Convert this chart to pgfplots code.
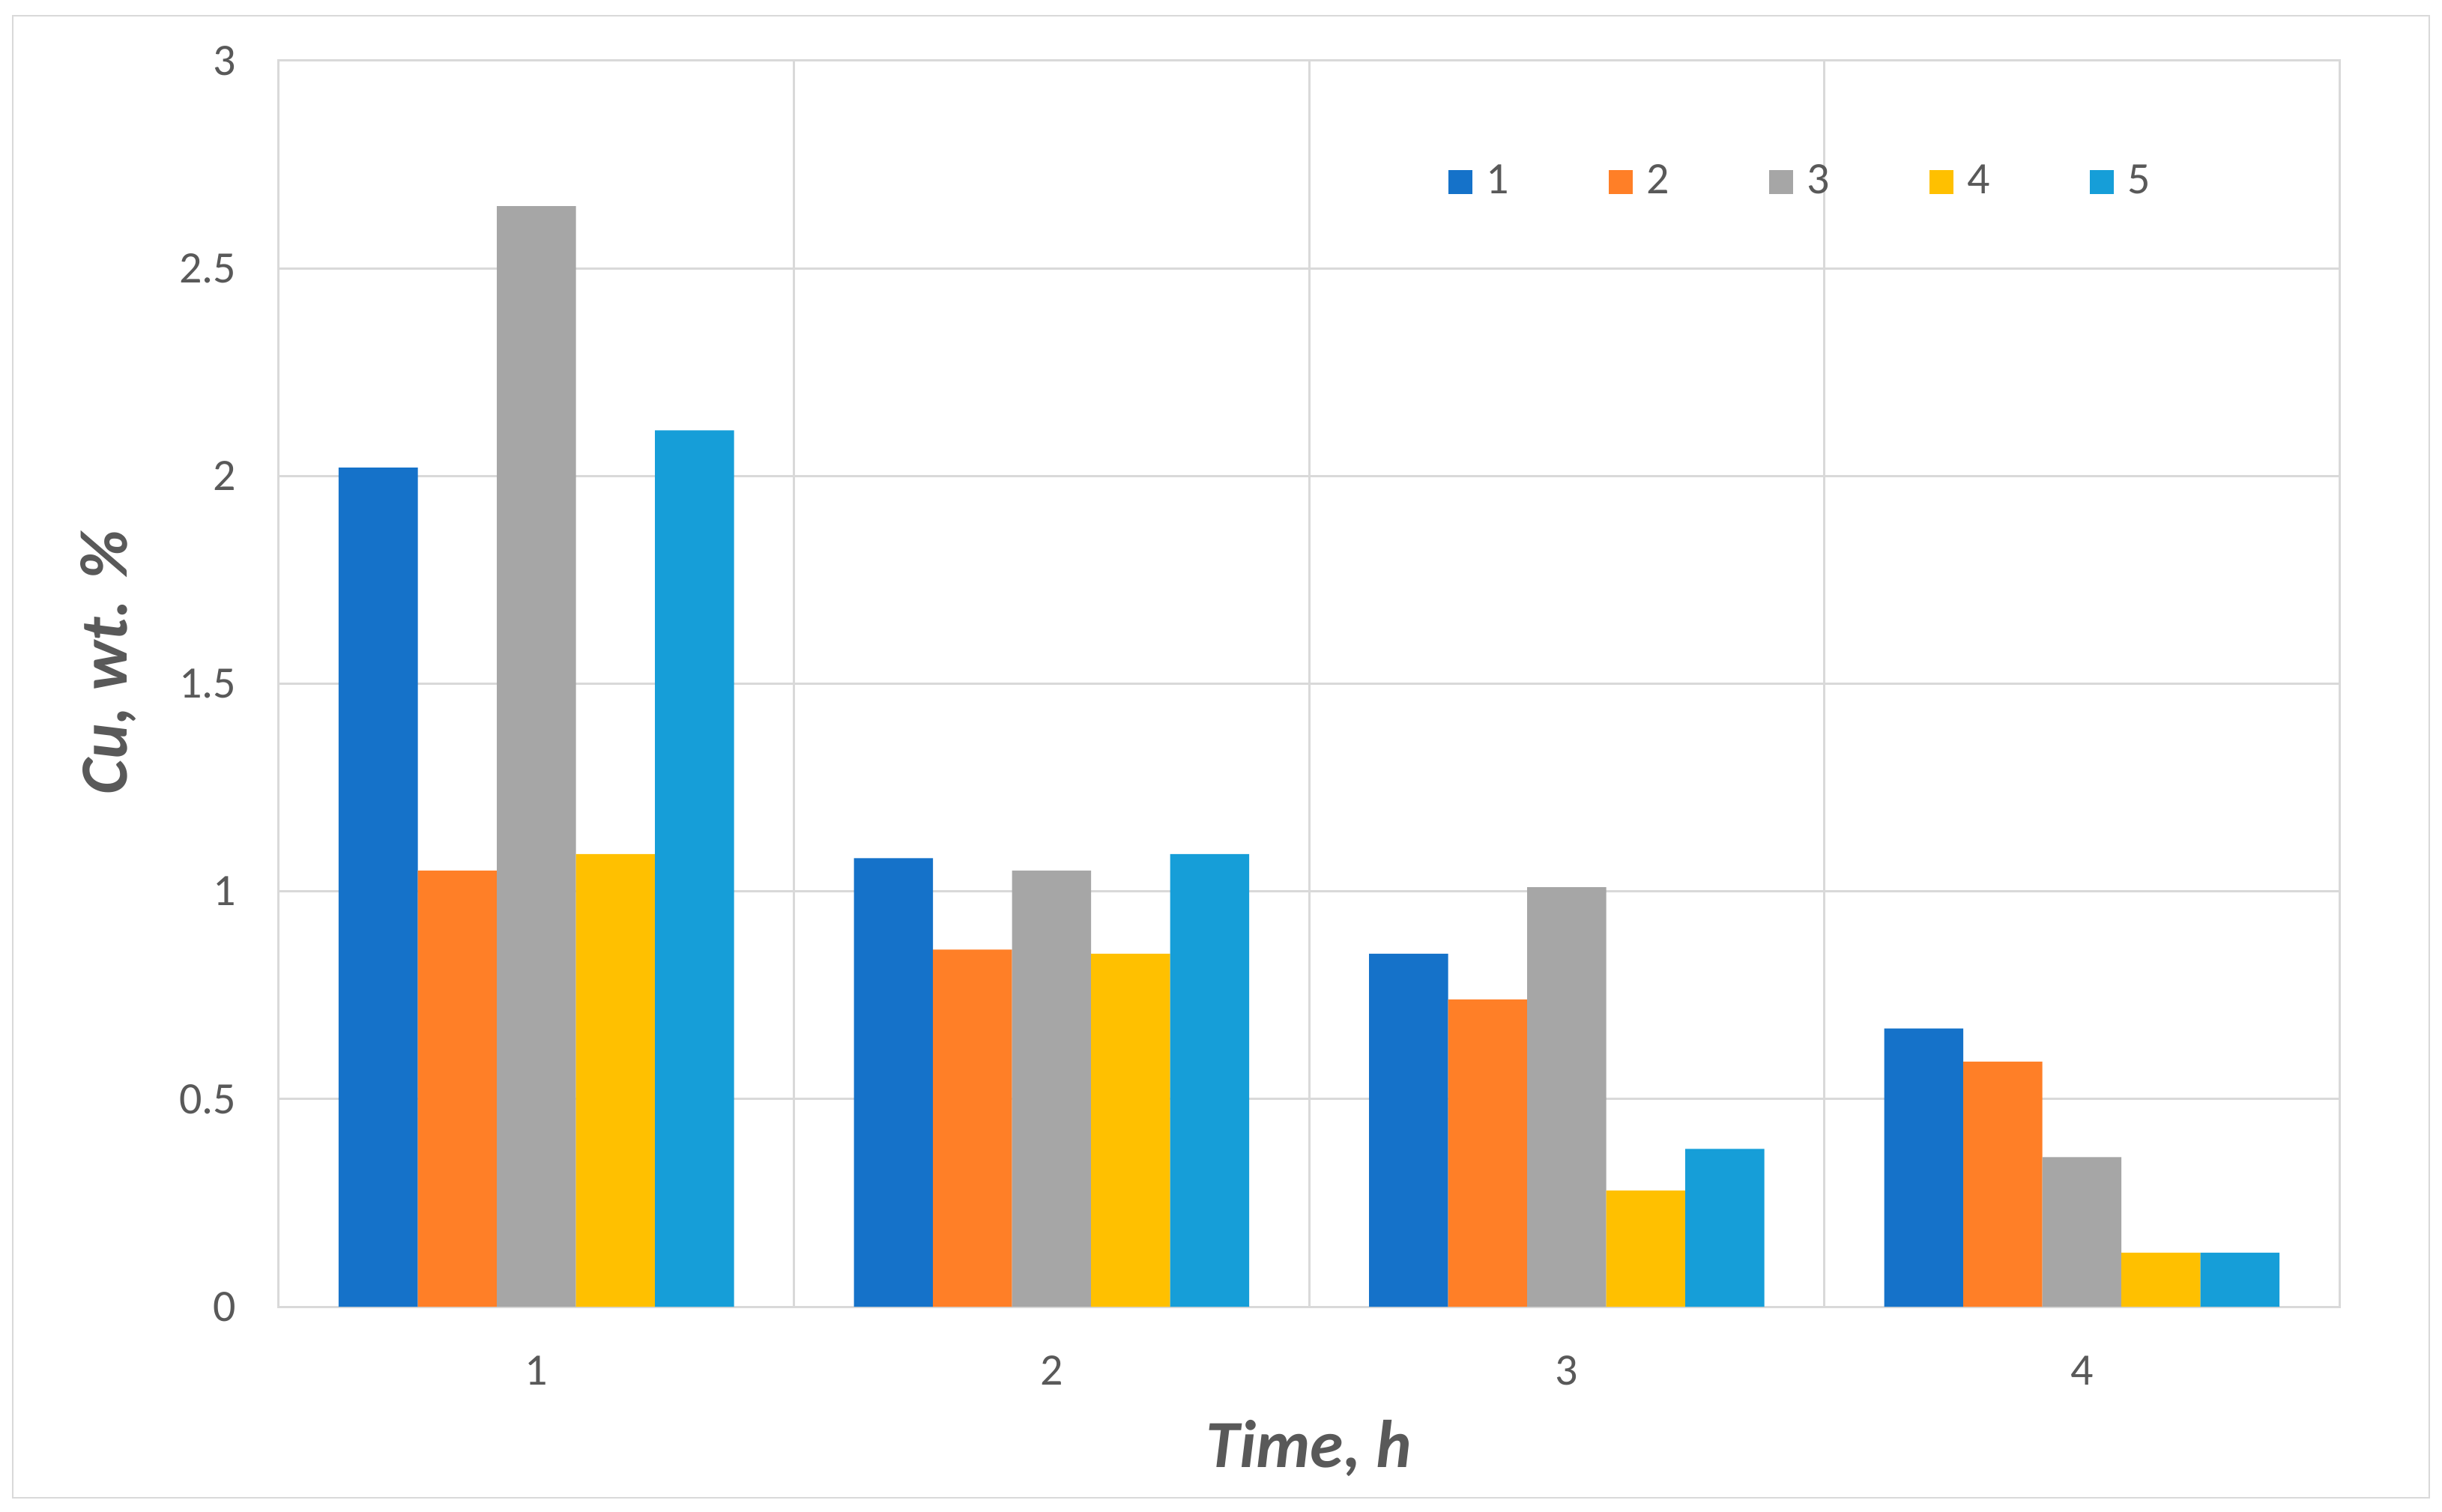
\documentclass[border=0pt]{standalone}
\usepackage{pgfplots}
\pgfplotsset{compat=1.18}
\usepackage{fontspec}
\setmainfont{Carlito}

\definecolor{sA}{HTML}{1572C9}
\definecolor{sB}{HTML}{FF7F27}
\definecolor{sC}{HTML}{A6A6A6}
\definecolor{sD}{HTML}{FFC000}
\definecolor{sE}{HTML}{169ED8}
\definecolor{gridc}{HTML}{D9D9D9}
\definecolor{txt}{HTML}{595959}

\pgfplotsset{
  sq/.style={legend image code/.code={\fill[##1] (0pt,-3.2pt) rectangle (6.4pt,3.2pt);}}
}

\begin{document}
\begin{tikzpicture}
  % whole chart area (1px of the reference = 0.2pt)
  \useasboundingbox (-74.4pt,-54.6pt) rectangle (577.4pt,348.8pt);
  \draw[gridc, line width=0.5pt] (-71pt,-51pt) rectangle (574pt,344.6pt);
  \begin{axis}[
      scale only axis,
      width=550pt, height=332.6pt,
      ybar=0pt,
      bar width=21.1pt,
      xmin=0.5, xmax=4.5,
      ymin=0, ymax=3,
      enlargelimits=false,
      xtick={1,2,3,4},
      minor xtick={1.5,2.5,3.5},
      ytick={0,0.5,1,1.5,2,2.5,3},
      major tick length=0pt,
      minor tick length=0pt,
      xmajorgrids=false,
      xminorgrids=true,
      ymajorgrids=true,
      grid style={gridc, line width=0.6pt},
      minor grid style={gridc, line width=0.6pt},
      axis line style={draw=gridc, line width=0.6pt},
      /pgf/number format/assume math mode=true,
      tick label style={font=\fontsize{12}{14}\selectfont, text=txt},
      xticklabel style={anchor=center, inner sep=0pt, yshift=-17pt},
      yticklabel style={anchor=east, inner sep=0pt, xshift=-11.2pt},
      xlabel={Time, h},
      ylabel={Cu, wt. \%},
      every axis x label/.style={at={(axis description cs:0.5,0)}, anchor=center,
        yshift=-37.8pt, font=\fontsize{18}{20}\selectfont\bfseries\itshape, text=txt},
      every axis y label/.style={at={(axis description cs:0,0.517)}, anchor=center,
        xshift=-45.4pt, rotate=90, font=\fontsize{18}{20}\selectfont\bfseries\itshape, text=txt},
      legend columns=5,
      legend style={draw=none, fill=none, inner sep=0pt, outer sep=0pt,
        at={(rel axis cs:0.5676,0.9026)}, anchor=west,
        font=\fontsize{12}{14}\selectfont, text=txt,
        nodes={inner sep=0pt},
        /tikz/every odd column/.style={column sep=3.7pt},
        /tikz/every even column/.style={column sep=26.6pt}},
    ]
    \addplot[fill=sA, draw=none, sq] coordinates {(1,2.02) (2,1.08) (3,0.85) (4,0.67)};
    \addplot[fill=sB, draw=none, sq] coordinates {(1,1.05) (2,0.86) (3,0.74) (4,0.59)};
    \addplot[fill=sC, draw=none, sq] coordinates {(1,2.65) (2,1.05) (3,1.01) (4,0.36)};
    \addplot[fill=sD, draw=none, sq] coordinates {(1,1.09) (2,0.85) (3,0.28) (4,0.13)};
    \addplot[fill=sE, draw=none, sq] coordinates {(1,2.11) (2,1.09) (3,0.38) (4,0.13)};
    \legend{1,2,3,4,5}
  \end{axis}
\end{tikzpicture}
\end{document}
